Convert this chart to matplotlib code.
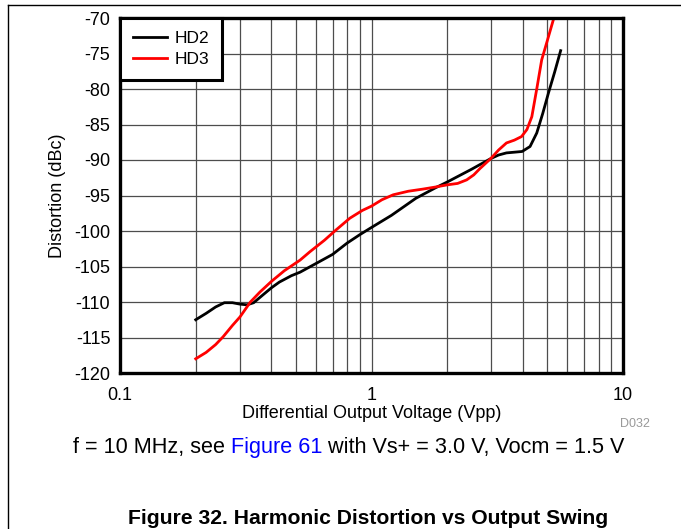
import numpy as np
import matplotlib
matplotlib.use("Agg")
import matplotlib.pyplot as plt
from matplotlib.lines import Line2D
from matplotlib.ticker import FixedLocator, NullFormatter

plt.rcParams['font.family'] = ['Liberation Sans', 'DejaVu Sans']

# Output swing (Vpp) vs distortion (dBc), 10 MHz
hd2_v = [0.20, 0.22, 0.24, 0.26, 0.28, 0.30, 0.32, 0.34, 0.37, 0.40, 0.43, 0.48,
         0.52, 0.60, 0.70, 0.80, 0.90, 1.0, 1.2, 1.5, 1.8, 2.0, 2.5, 2.98, 3.2,
         3.44, 3.7, 3.97, 4.27, 4.54, 4.8, 5.05, 5.35, 5.65]
hd2_db = [-112.5, -111.6, -110.7, -110.1, -110.1, -110.3, -110.4, -110.1, -109.0,
          -108.0, -107.2, -106.3, -105.8, -104.6, -103.3, -101.7, -100.5, -99.5,
          -97.8, -95.4, -93.9, -93.1, -91.3, -89.8, -89.3, -89.0, -88.9, -88.8,
          -88.1, -86.2, -83.4, -80.6, -77.6, -74.6]

hd3_v = [0.20, 0.22, 0.24, 0.257, 0.28, 0.30, 0.33, 0.36, 0.40, 0.45, 0.52, 0.57,
         0.65, 0.72, 0.82, 0.92, 1.0, 1.1, 1.22, 1.4, 1.6, 1.8, 2.0, 2.2, 2.39,
         2.55, 2.7, 2.98, 3.2, 3.44, 3.7, 3.95, 4.15, 4.34, 4.55, 4.75, 5.0, 5.28]
hd3_db = [-118.0, -117.1, -116.0, -114.9, -113.3, -112.1, -110.0, -108.6, -107.1,
          -105.6, -104.1, -102.9, -101.3, -99.9, -98.2, -97.1, -96.5, -95.6, -94.9,
          -94.4, -94.1, -93.8, -93.5, -93.3, -92.8, -92.1, -91.2, -89.8, -88.6,
          -87.6, -87.2, -86.7, -85.7, -83.9, -79.8, -75.9, -73.2, -70.3]

x_ticks = [0.1, 1, 10]
x_tick_labels = ['0.1', '1', '10']
y_ticks = list(range(-120, -65, 5))

fig = plt.figure(figsize=(6.81, 5.29), dpi=100)
ax = fig.add_axes([120 / 681, 1 - 373 / 529, 503 / 681, 355 / 529])

ax.plot(hd2_v, hd2_db, color='black', lw=2, label='HD2')
ax.plot(hd3_v, hd3_db, color='red', lw=2, label='HD3')

ax.set_xscale('log')
ax.set_xlim(0.1, 10)
ax.set_ylim(-120, -70)
ax.xaxis.set_major_locator(FixedLocator(x_ticks))
ax.set_xticklabels(x_tick_labels)
minors = [m * d for d in (0.1, 1) for m in range(2, 10)]
ax.xaxis.set_minor_locator(FixedLocator(minors))
ax.xaxis.set_minor_formatter(NullFormatter())
ax.set_yticks(y_ticks)
ax.set_yticklabels([str(v) for v in y_ticks])
ax.tick_params(which='both', length=0, labelsize=13)
ax.tick_params(axis='y', pad=7)
ax.tick_params(axis='x', pad=10)

ax.grid(True, which='both', axis='x', color='0.3', lw=0.9)
ax.grid(True, which='major', axis='y', color='0.3', lw=0.9)
for s in ax.spines.values():
    s.set_linewidth(2.4)

ax.set_xlabel('Differential Output Voltage (Vpp)', fontsize=13, labelpad=1)
ax.set_ylabel('Distortion (dBc)', fontsize=13, labelpad=6)

leg = ax.legend(loc='upper left', fontsize=12.5, borderaxespad=0, fancybox=False,
                framealpha=1, edgecolor='black', handlelength=2.0,
                handletextpad=0.45, borderpad=0.72, labelspacing=0.37)
leg.get_frame().set_linewidth(2.2)

fig.text(650 / 681, 1 - 424 / 529, 'D032', color='0.6', fontsize=9,
         ha='right', va='center')

# caption line with a blue cross-reference
fig.canvas.draw()
renderer = fig.canvas.get_renderer()
parts = [('f = 10 MHz, see ', 'black'), ('Figure 61', 'blue'),
         (' with Vs+ = 3.0 V, Vocm = 1.5 V', 'black')]
x = 73 / 681
y = 1 - 447 / 529
for txt, col in parts:
    t = fig.text(x, y, txt, color=col, fontsize=15.6, ha='left', va='center')
    bb = t.get_window_extent(renderer)
    x += bb.width / fig.bbox.width

fig.text(368 / 681, 1 / 529, 'Figure 32. Harmonic Distortion vs Output Swing',
         fontsize=15.2, fontweight='bold', ha='center', va='bottom')

# page frame
fig.add_artist(Line2D([8 / 681, 1], [1 - 5 / 529] * 2, color='black', lw=1,
                      transform=fig.transFigure))
fig.add_artist(Line2D([8 / 681] * 2, [0, 1 - 5 / 529], color='black', lw=1,
                      transform=fig.transFigure))

fig.savefig('out.png', dpi=100)
